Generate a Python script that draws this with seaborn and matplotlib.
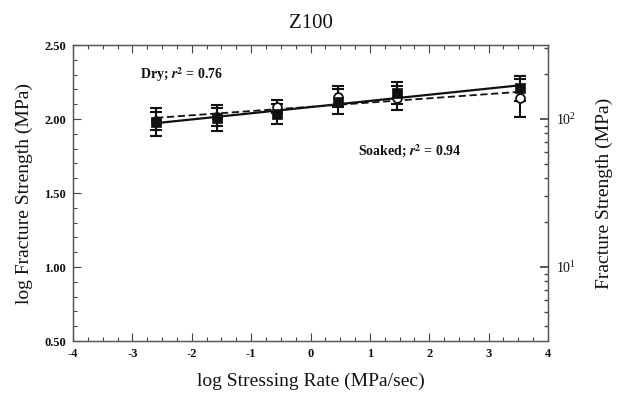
import numpy as np
import pandas as pd
import matplotlib
matplotlib.use("Agg")
import matplotlib.pyplot as plt
import seaborn as sns
from matplotlib.ticker import MultipleLocator, FixedLocator, FormatStrFormatter

# ---- data ----
log_rate = [-2.6, -1.58, -0.56, 0.46, 1.45, 3.52]
dry_strength = [1.985, 2.012, 2.083, 2.151, 2.14, 2.144]      # open circles
dry_err = [0.06, 0.06, 0.045, 0.07, 0.08, 0.128]
soaked_strength = [1.977, 2.005, 2.032, 2.117, 2.174, 2.207]  # filled squares
soaked_err = [0.095, 0.088, 0.068, 0.085, 0.076, 0.083]
x_ticks = [-4, -3, -2, -1, 0, 1, 2, 3, 4]
y_ticks = [0.5, 1.0, 1.5, 2.0, 2.5]
title = "Z100"
dry_label = r"Dry; $\mathbfit{r}^{\mathbf{2}}$ = 0.76"
soaked_label = r"Soaked; $\mathbfit{r}^{\mathbf{2}}$ = 0.94"

df = pd.DataFrame({"rate": log_rate, "dry": dry_strength, "soaked": soaked_strength})

sns.set_theme(style="ticks")
plt.rcParams["font.family"] = ["Liberation Serif", "DejaVu Serif"]
plt.rcParams["mathtext.fontset"] = "stix"

fig = plt.figure(figsize=(6.19, 3.96), dpi=100)
ax = fig.add_axes([73 / 619, 1 - 341 / 396, (548 - 73) / 619, (341 - 45) / 396])

ink = "#111111"
# regression lines
sns.regplot(data=df, x="rate", y="soaked", scatter=False, ci=None, truncate=True,
            ax=ax, line_kws=dict(color=ink, lw=1.6, ls="-"))
sns.regplot(data=df, x="rate", y="dry", scatter=False, ci=None, truncate=True,
            ax=ax, line_kws=dict(color=ink, lw=1.3, ls=(0, (4, 2))))

# error bars
ax.errorbar(log_rate, dry_strength, yerr=dry_err, fmt="none", ecolor=ink,
            elinewidth=1.5, capsize=4, capthick=1.5, zorder=3)
ax.errorbar(log_rate, soaked_strength, yerr=soaked_err, fmt="none", ecolor=ink,
            elinewidth=1.5, capsize=4, capthick=1.5, zorder=3)

# markers
sns.scatterplot(data=df, x="rate", y="dry", marker="o", s=40, facecolor="white",
                edgecolor=ink, linewidth=1.3, ax=ax, zorder=4)
sns.scatterplot(data=df, x="rate", y="soaked", marker="s", s=55, color=ink,
                edgecolor=ink, linewidth=0.5, ax=ax, zorder=5)

ax.set_xlim(-4, 4)
ax.set_ylim(0.5, 2.5)
ax.xaxis.set_major_locator(FixedLocator(x_ticks))
ax.xaxis.set_minor_locator(MultipleLocator(0.25))
ax.yaxis.set_major_locator(FixedLocator(y_ticks))
ax.yaxis.set_minor_locator(MultipleLocator(0.1))
ax.xaxis.set_major_formatter(FormatStrFormatter("%d"))
ax.yaxis.set_major_formatter(FormatStrFormatter("%.2f"))
ax.tick_params(which="both", direction="in", top=True, right=False, color="#444444",
               labelsize=9, labelcolor=ink, width=0.8)
ax.tick_params(which="major", length=6, pad=5)
ax.tick_params(which="minor", length=3)
for lab in ax.get_xticklabels() + ax.get_yticklabels():
    lab.set_fontweight("bold")
for s in ax.spines.values():
    s.set_color("#555555")
    s.set_linewidth(0.9)

ax.set_xlabel("log Stressing Rate (MPa/sec)", fontsize=14, color=ink, labelpad=9)
ax.set_ylabel("log Fracture Strength (MPa)", fontsize=14, color=ink, labelpad=8)
ax.set_title(title, fontsize=15, color=ink, pad=12)

ax.text(-2.88, 2.30, dry_label, fontsize=10, fontweight="bold", color=ink, va="center")
ax.text(0.8, 1.78, soaked_label, fontsize=10, fontweight="bold", color=ink, va="center")

# right log axis
ax2 = ax.twinx()
ax2.set_yscale("log")
ax2.set_ylim(10 ** 0.5, 10 ** 2.5)
ax2.tick_params(which="both", direction="in", color="#444444", labelsize=10, labelcolor=ink)
ax2.tick_params(which="major", length=6, pad=6)
ax2.tick_params(which="minor", length=3)
ax2.set_ylabel("Fracture Strength (MPa)", fontsize=14, color=ink, labelpad=14)
for s in ax2.spines.values():
    s.set_color("#555555")
    s.set_linewidth(0.9)

fig.savefig("out.png", dpi=100)
